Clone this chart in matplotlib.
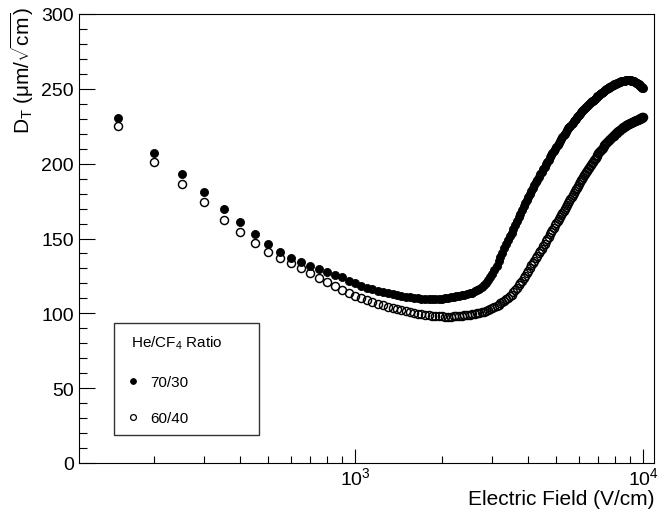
import numpy as np
import matplotlib
matplotlib.use("Agg")
import matplotlib.pyplot as plt
from matplotlib.ticker import LogLocator, MultipleLocator, NullFormatter, LogFormatterSciNotation
from matplotlib.patches import Rectangle
from matplotlib.lines import Line2D

plt.rcParams['font.family'] = ['Liberation Sans', 'DejaVu Sans']
plt.rcParams['mathtext.fontset'] = 'custom'
plt.rcParams['mathtext.rm'] = 'Liberation Sans'
plt.rcParams['mathtext.it'] = 'Liberation Sans:italic'
plt.rcParams['mathtext.bf'] = 'Liberation Sans:bold'

# ---- data ----
field = list(range(150, 10001, 50))  # V/cm

dt_7030 = [
    230.5, 207.0, 193.3, 181.0, 170.0, 160.8, 153.2, 146.2, 141.0, 137.0,
    134.0, 131.8, 129.6, 127.7, 125.7, 124.0, 121.8, 120.0, 118.4, 117.1,
    116.0, 115.0, 114.1, 113.3, 112.6, 112.0, 111.5, 111.0, 110.6, 110.3,
    110.1, 109.9, 109.8, 109.7, 109.7, 109.7, 109.8, 109.9, 110.1, 110.3,
    110.6, 110.9, 111.3, 111.7, 112.1, 112.5, 112.9, 113.3, 113.9, 114.6,
    115.4, 116.5, 117.7, 119.0, 120.5, 122.2, 124.2, 126.5, 129.1, 131.9,
    134.8, 137.7, 140.6, 143.4, 146.2, 148.9, 151.5, 154.0, 156.5, 159.0,
    161.6, 164.1, 166.6, 169.0, 171.4, 173.7, 175.9, 178.0, 180.0, 182.0,
    183.9, 185.8, 187.6, 189.4, 191.2, 192.9, 194.6, 196.3, 197.9, 199.5,
    201.1, 202.7, 204.2, 205.7, 207.1, 208.5, 209.9, 211.3, 212.6, 213.9,
    215.2, 216.5, 217.7, 218.9, 220.1, 221.3, 222.4, 223.5, 224.5, 225.5,
    226.5, 227.4, 228.3, 229.2, 230.1, 231.0, 231.8, 232.6, 233.4, 234.2,
    235.0, 235.7, 236.4, 237.1, 237.8, 238.5, 239.1, 239.8, 240.4, 241.0,
    241.6, 242.2, 242.8, 243.4, 243.9, 244.5, 245.0, 245.5, 246.0, 246.5,
    247.0, 247.5, 247.9, 248.4, 248.8, 249.2, 249.6, 250.0, 250.4, 250.8,
    251.1, 251.5, 251.8, 252.1, 252.4, 252.7, 253.0, 253.3, 253.5, 253.8,
    254.0, 254.2, 254.4, 254.6, 254.8, 254.9, 255.1, 255.2, 255.3, 255.4,
    255.5, 255.6, 255.6, 255.7, 255.7, 255.7, 255.7, 255.6, 255.6, 255.5,
    255.4, 255.3, 255.1, 254.9, 254.7, 254.5, 254.2, 253.9, 253.6, 253.3,
    253.0, 252.6, 252.3, 251.9, 251.5, 251.1, 250.7, 250.3,
]

dt_6040 = [
    225.0, 200.8, 186.3, 174.3, 162.4, 154.2, 147.0, 141.2, 137.0, 133.4,
    130.0, 126.7, 123.5, 120.7, 118.0, 115.8, 113.6, 111.8, 110.1, 108.7,
    107.4, 106.3, 105.3, 104.4, 103.6, 102.8, 102.1, 101.4, 100.8, 100.3,
    99.8, 99.4, 99.0, 98.7, 98.4, 98.2, 98.0, 97.9, 97.8, 97.8,
    97.8, 97.9, 98.0, 98.2, 98.4, 98.7, 98.9, 99.1, 99.3, 99.6,
    99.9, 100.2, 100.6, 101.0, 101.5, 102.0, 102.7, 103.4, 104.1, 104.9,
    105.7, 106.6, 107.5, 108.4, 109.4, 110.4, 111.4, 112.5, 114.0, 115.5,
    117.0, 118.6, 120.2, 121.9, 123.5, 125.2, 126.9, 128.6, 130.3, 132.0,
    133.7, 135.3, 136.9, 138.5, 140.1, 141.7, 143.3, 144.8, 146.4, 148.0,
    149.6, 151.2, 152.7, 154.2, 155.7, 157.2, 158.7, 160.2, 161.6, 163.0,
    164.4, 165.8, 167.2, 168.6, 170.0, 171.3, 172.6, 173.9, 175.2, 176.5,
    177.8, 179.1, 180.4, 181.6, 182.8, 184.0, 185.2, 186.4, 187.6, 188.8,
    189.9, 191.0, 192.1, 193.2, 194.3, 195.4, 196.4, 197.4, 198.4, 199.4,
    200.4, 201.4, 202.3, 203.2, 204.1, 205.0, 205.9, 206.8, 207.6, 208.4,
    209.2, 210.0, 210.8, 211.5, 212.2, 212.9, 213.6, 214.3, 214.9, 215.5,
    216.1, 216.7, 217.3, 217.8, 218.3, 218.8, 219.3, 219.8, 220.3, 220.7,
    221.2, 221.6, 222.0, 222.4, 222.8, 223.2, 223.6, 224.0, 224.3, 224.6,
    225.0, 225.3, 225.6, 225.9, 226.2, 226.5, 226.8, 227.1, 227.3, 227.5,
    227.7, 227.9, 228.1, 228.3, 228.5, 228.7, 228.9, 229.1, 229.3, 229.5,
    229.7, 229.9, 230.1, 230.3, 230.5, 230.7, 230.9, 231.0,
]

series_labels = ['70/30', '60/40']
legend_title = r'He/CF$_{\mathregular{4}}$ Ratio'
y_label = r'D$_{\mathregular{T}}$ ($\mathregular{\mu}$m/$\sqrt{\mathregular{cm}}$)'
x_label = 'Electric Field (V/cm)'

assert len(field) == len(dt_7030) == len(dt_6040)

# ---- figure ----
W, H = 658, 510
fig = plt.figure(figsize=(W / 100, H / 100), dpi=100)
ax = fig.add_axes([79 / W, (H - 464) / H, 575 / W, 449 / H])

ax.set_xscale('log')
ax.set_xlim(110.1, 10919)
ax.set_ylim(0, 300)

ax.plot(field, dt_7030, ls='none', marker='o', ms=5.8, color='black',
        mec='black', mew=0.6)
ax.plot(field, dt_6040, ls='none', marker='o', ms=5.8, mfc='none',
        mec='black', mew=1.05)

for s in ax.spines.values():
    s.set_linewidth(0.8)
    s.set_color('black')

ax.yaxis.set_major_locator(MultipleLocator(50))
ax.yaxis.set_minor_locator(MultipleLocator(10))
ax.xaxis.set_major_locator(LogLocator(base=10, numticks=10))
ax.xaxis.set_minor_locator(LogLocator(base=10, subs=np.arange(2, 10), numticks=30))
ax.xaxis.set_major_formatter(LogFormatterSciNotation())
ax.xaxis.set_minor_formatter(NullFormatter())

ax.tick_params(axis='y', which='major', direction='in', length=11.5, width=0.8,
               labelsize=14, pad=3.6, right=False)
ax.tick_params(axis='y', which='minor', direction='in', length=5.8, width=0.8, right=False)
ax.tick_params(axis='x', which='major', direction='in', length=10, width=0.8,
               labelsize=14, pad=2.5, top=False)
ax.tick_params(axis='x', which='minor', direction='in', length=5, width=0.8, top=False)

fig.text(22 / W, 1 - 7 / H, y_label, rotation=90, ha='center', va='top', fontsize=15)
fig.text(654 / W, 5 / H, x_label, ha='right', va='baseline', fontsize=15)

# ---- legend box ----
def axp(px, py):
    return ((px - 79) / 575, (464 - py) / 449)

x0, y0 = axp(114, 436)
x1, y1 = axp(259, 324)
ax.add_patch(Rectangle((x0, y0), x1 - x0, y1 - y0, transform=ax.transAxes,
                       fill=True, facecolor='white', edgecolor='#333333',
                       linewidth=1.0, zorder=5))
tx, ty = axp(130.7, 347.5)
ax.text(tx, ty, legend_title, transform=ax.transAxes, fontsize=11,
        ha='left', va='baseline', zorder=6)
rows = [(381.7, 387.3), (418.3, 423.3)]
styles = [dict(color='black', mfc='black', mec='black', mew=0.6),
          dict(color='black', mfc='none', mec='black', mew=0.9)]
for lab, (my, by), st in zip(series_labels, rows, styles):
    mx, mya = axp(133.3, my)
    ax.add_line(Line2D([mx], [mya], ls='none', marker='o', ms=4.2,
                       transform=ax.transAxes, zorder=6, **st))
    lx, ly = axp(150.7, by)
    ax.text(lx, ly, lab, transform=ax.transAxes, fontsize=11,
            ha='left', va='baseline', zorder=6)

fig.savefig('out.png', dpi=100, facecolor='white')
